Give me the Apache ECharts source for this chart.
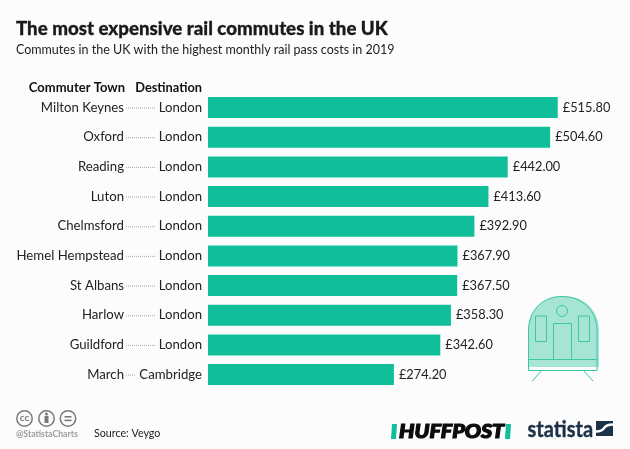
<!DOCTYPE html>
<html><head><meta charset="utf-8">
<style>html,body{margin:0;padding:0;background:#fff}#c{width:630px;height:449px}</style>
<script src="https://cdn.jsdelivr.net/npm/echarts@6/dist/echarts.min.js"></script>
</head><body><div id="c"></div>
<script>
const towns = ['Milton Keynes','Oxford','Reading','Luton','Chelmsford','Hemel Hempstead','St Albans','Harlow','Guildford','March'];
const destinations = ['London','London','London','London','London','London','London','London','London','Cambridge'];
const costs = [515.80,504.60,442.00,413.60,392.90,367.90,367.50,358.30,342.60,274.20];
const FONT = 'Lato, "Open Sans", sans-serif';
const TEAL = '#10bf9a', INK = '#222', MINT = '#a6e4d3', LINE = '#3cc7a6', NAVY = '#1b3145', GREY = '#77797b', PAPER = '#fcfcfc';
const regPath = (name, d) => echarts.graphic.registerShape(name, echarts.graphic.extendPath(d));
regPath('trainFill', 'M528 367 L528 331 C528 310 543 296 562 296 L564 296 C584 296 599 310 599 331 L599 367 Z');
regPath('trainEdge', 'M528.5 370.5 L528.5 331 C528.5 310 543 296.5 562 296.5 C582 296.5 597 310 597 331 L597 370.5 Z');
regPath('statistaBox', 'M596 421 L613 421 L613 436 L596 436 Z');
regPath('statistaS', 'M596 431.5 C602 431.5 603 429.5 604.5 427.5 C606 425.5 608 424.5 613 424.5');
const chart = echarts.init(document.getElementById('c'), null, {renderer:'canvas'});
const catAxis = (extra) => Object.assign({
  type:'category', inverse:true, data:destinations,
  axisLine:{show:false}, axisTick:{show:false}, splitLine:{show:false}
}, extra);
const train = [
  {type:'trainFill', style:{fill:MINT}},
  {type:'trainEdge', style:{fill:'none', stroke:LINE, lineWidth:1}},
  {type:'circle', shape:{cx:562,cy:311,r:5.5}, style:{fill:'none', stroke:LINE, lineWidth:1}},
  {type:'rect', shape:{x:535.5,y:316,width:11,height:25.5}, style:{fill:'none', stroke:LINE, lineWidth:1}},
  {type:'rect', shape:{x:578.5,y:316,width:11,height:25.5}, style:{fill:'none', stroke:LINE, lineWidth:1}},
  {type:'rect', shape:{x:553.5,y:323.5,width:18,height:36}, style:{fill:'none', stroke:LINE, lineWidth:1}},
  {type:'line', shape:{x1:528,y1:359.5,x2:597,y2:359.5}, style:{stroke:LINE, lineWidth:1}},
  {type:'line', shape:{x1:542,y1:370,x2:532,y2:381.5}, style:{stroke:LINE, lineWidth:1}},
  {type:'line', shape:{x1:583,y1:370,x2:593,y2:381}, style:{stroke:LINE, lineWidth:1}}
];
const ring = cx => ({type:'circle', shape:{cx,cy:418.5,r:7.7}, style:{fill:'none', stroke:GREY, lineWidth:1.5}});
const icons = [
  ring(24.5), ring(46.5), ring(68),
  {type:'text', x:24.5, y:418, style:{text:'cc', font:'bold 10px '+FONT, fill:GREY, align:'center', verticalAlign:'middle'}},
  {type:'circle', shape:{cx:46.5,cy:414,r:1.5}, style:{fill:GREY}},
  {type:'rect', shape:{x:44.5,y:416,width:4,height:7}, style:{fill:GREY}},
  {type:'rect', shape:{x:64.5,y:416,width:7,height:1.6}, style:{fill:GREY}},
  {type:'rect', shape:{x:64.5,y:419.6,width:7,height:1.6}, style:{fill:GREY}}
];
const graphics = [
  {type:'text', x:16, y:29, style:{text:'The most expensive rail commutes in the UK', font:'900 18.7px '+FONT, fill:'#1a1a1a', verticalAlign:'middle', stroke:'#1a1a1a', lineWidth:0.3}},
  {type:'text', x:16, y:50, style:{text:'Commutes in the UK with the highest monthly rail pass costs in 2019', font:'12.5px '+FONT, fill:INK, verticalAlign:'middle'}},
  {type:'text', x:125, y:88, style:{text:'Commuter Town', font:'bold 13px '+FONT, fill:'#111', align:'right', verticalAlign:'middle'}},
  {type:'text', x:202, y:88, style:{text:'Destination', font:'bold 12.8px '+FONT, fill:'#111', align:'right', verticalAlign:'middle'}},
  ...train,
  ...icons,
  {type:'text', x:16, y:434.5, style:{text:'@StatistaCharts', font:'bold 8.7px '+FONT, fill:'#9a9c9e', verticalAlign:'middle'}},
  {type:'text', x:94, y:434, style:{text:'Source: Veygo', font:'10.7px '+FONT, fill:INK, verticalAlign:'middle'}},
  {type:'polygon', shape:{points:[[392,424],[397,424],[396,439],[391,439]]}, style:{fill:TEAL}},
  {type:'polygon', shape:{points:[[506,424],[511,424],[510,439],[505,439]]}, style:{fill:TEAL}},
  {type:'text', x:399, y:431.5, scaleX:1.13, style:{text:'HUFFPOST', font:'italic 900 19px '+FONT, fill:'#0c0c0c', verticalAlign:'middle', stroke:'#0c0c0c', lineWidth:1.2}},
  {type:'text', x:527.5, y:430, scaleX:0.91, style:{text:'statista', font:'bold 22px Lato, sans-serif', fill:NAVY, verticalAlign:'middle', stroke:NAVY, lineWidth:0.4}},
  {type:'statistaBox', style:{fill:NAVY}},
  {type:'statistaS', style:{fill:'none', stroke:PAPER, lineWidth:2.4}}
];
chart.setOption({
  animation:false,
  backgroundColor:PAPER,
  textStyle:{fontFamily:FONT},
  grid:{left:208, top:92.7, width:420.4, height:296.7, containLabel:false},
  xAxis:{type:'value', min:0, max:620, show:false},
  yAxis:[
    catAxis({position:'left', axisLabel:{margin:6, fontSize:13.2, color:INK, fontFamily:FONT}}),
    catAxis({position:'left', offset:78, data:towns, axisLabel:{margin:6, fontSize:13.2, color:INK, fontFamily:FONT}})
  ],
  series:[
    {type:'bar', data:costs, barWidth:21, itemStyle:{color:TEAL},
     label:{show:true, position:'right', distance:5, fontSize:12.8, color:INK, fontFamily:FONT,
            formatter:p => '£' + p.value.toFixed(2)}},
    {type:'custom', clip:false, silent:true, data:destinations.map((d,i)=>[0,i]),
     encode:{x:0,y:1},
     renderItem:(params, api) => {
       const pt = api.coord([0, api.value(1)]);
       const end = destinations[params.dataIndex] === 'Cambridge' ? pt[0]-73 : pt[0]-52;
       return {type:'line', shape:{x1:pt[0]-82, y1:pt[1]+0.5, x2:end, y2:pt[1]+0.5},
               style:{stroke:'#a8a8a8', lineWidth:1, lineDash:[1,1]}};
     }}
  ],
  graphic:graphics
});
</script></body></html>
